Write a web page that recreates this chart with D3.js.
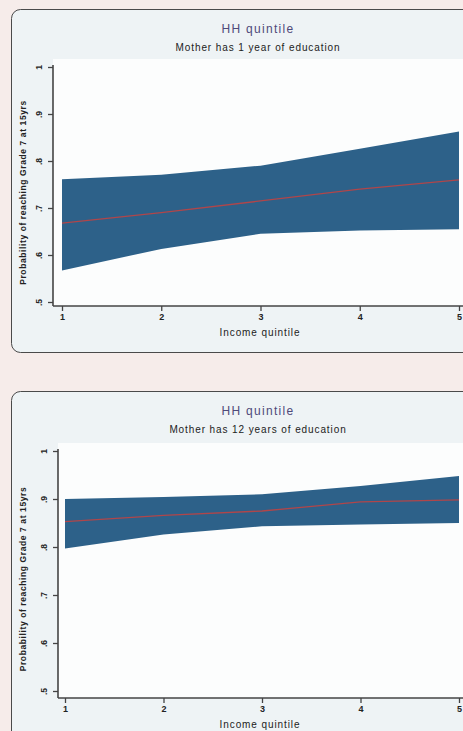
<!DOCTYPE html>
<html><head><meta charset="utf-8">
<script src="https://cdn.jsdelivr.net/npm/d3@7"></script>
<style>
html,body{margin:0;padding:0;background:#f6ecea;}
svg{display:block;font-family:"Liberation Sans",Arial,sans-serif;}
</style></head>
<body><svg id="c" width="463" height="731"></svg>
<script>
const quintiles = [1, 2, 3, 4, 5];
const yTicks = [0.5, 0.6, 0.7, 0.8, 0.9, 1];
const yTickLabels = [".5", ".6", ".7", ".8", ".9", "1"];
const titles = ["HH quintile", "HH quintile"];
const subtitles = ["Mother has 1 year of education", "Mother has 12 years of education"];
const xTitle = "Income quintile";
const yTitle = "Probability of reaching Grade 7 at 15yrs";
// panel 1: mother has 1 year of education
const fit1 = [0.668, 0.690, 0.715, 0.740, 0.760];
const upper1 = [0.761, 0.771, 0.790, 0.826, 0.863];
const lower1 = [0.567, 0.613, 0.645, 0.652, 0.655];
// panel 2: mother has 12 years of education
const fit2 = [0.853, 0.866, 0.875, 0.894, 0.898];
const upper2 = [0.900, 0.904, 0.910, 0.927, 0.948];
const lower2 = [0.797, 0.826, 0.843, 0.847, 0.850];

const svg = d3.select("#c");

function panel(cfg) {
  const g = svg.append("g");
  g.append("rect").attr("x", 11.5).attr("y", cfg.top + 0.5).attr("width", 470).attr("height", cfg.h)
    .attr("rx", 9).attr("fill", "#eef3f5").attr("stroke", "#4a4a4a").attr("stroke-width", 1);
  const x = d3.scaleLinear().domain([1, 5]).range([cfg.x0, cfg.x1]);
  const y = d3.scaleLinear().domain([0.5, 1]).range([cfg.yb, cfg.yt]);
  // plot region
  g.append("rect").attr("x", cfg.ax).attr("y", cfg.yt - 8).attr("width", 463 - cfg.ax).attr("height", cfg.axy - cfg.yt + 8)
    .attr("fill", "#fcfdfd");
  const data = quintiles.map((q, i) => ({q, f: cfg.fit[i], u: cfg.upper[i], l: cfg.lower[i]}));
  g.append("path").datum(data)
    .attr("d", d3.area().x(d => x(d.q)).y0(d => y(d.l)).y1(d => y(d.u)))
    .attr("fill", "#2d6189");
  g.append("path").datum(data)
    .attr("d", d3.line().x(d => x(d.q)).y(d => y(d.f)))
    .attr("fill", "none").attr("stroke", "#b0464a").attr("stroke-width", 1.3);
  // y axis
  const ya = g.append("g").attr("transform", `translate(${cfg.ax},0)`)
    .call(d3.axisLeft(y).tickValues(yTicks).tickSize(5).tickPadding(3)
      .tickFormat((d, i) => yTickLabels[i]));
  ya.select(".domain").attr("stroke", "#444").attr("stroke-width", 1.6)
    .attr("d", `M0,${cfg.yt - 2}V${cfg.axy}`);
  ya.selectAll(".tick line").attr("stroke", "#444").attr("stroke-width", 1.3);
  ya.selectAll(".tick text").attr("font-size", 8.5).attr("fill", "#222").attr("font-weight", "bold")
    .attr("transform", "rotate(-90)").attr("x", 0).attr("y", -12).attr("dy", "0.1em")
    .attr("text-anchor", "middle");
  // x axis
  const xa = g.append("g").attr("transform", `translate(0,${cfg.axy})`)
    .call(d3.axisBottom(x).tickValues(quintiles).tickSize(5).tickPadding(3).tickFormat(d3.format("d")));
  xa.select(".domain").attr("stroke", "#444").attr("stroke-width", 1.6)
    .attr("d", `M${cfg.ax},0H463`);
  xa.selectAll(".tick line").attr("stroke", "#444").attr("stroke-width", 1.3);
  xa.selectAll(".tick text").attr("font-size", 9).attr("fill", "#222").attr("font-weight", "bold");
  // titles
  g.append("text").attr("x", 258).attr("y", cfg.top + 24).attr("text-anchor", "middle")
    .attr("font-size", 12).attr("letter-spacing", 1.3).attr("fill", "#4e4a7a").text(cfg.title);
  g.append("text").attr("x", 258).attr("y", cfg.top + 42).attr("text-anchor", "middle")
    .attr("font-size", 10).attr("letter-spacing", 0.9).attr("fill", "#222").text(cfg.subtitle);
  g.append("text").attr("x", 260).attr("y", cfg.axy + 30).attr("text-anchor", "middle")
    .attr("font-size", 10).attr("letter-spacing", 0.9).attr("fill", "#222").text(xTitle);
  g.append("text").attr("transform", `translate(26,${(cfg.yt + cfg.yb) / 2 + 8}) rotate(-90)`)
    .attr("text-anchor", "middle").attr("font-size", 8.5).attr("letter-spacing", 0.6).attr("font-weight", "bold")
    .attr("fill", "#222").text(yTitle);
}

panel({top: 9, h: 343, x0: 62, x1: 459, yt: 67, yb: 302, ax: 53, axy: 306,
  fit: fit1, upper: upper1, lower: lower1, title: titles[0], subtitle: subtitles[0]});
panel({top: 391, h: 360, x0: 65, x1: 459, yt: 451, yb: 691, ax: 58, axy: 698,
  fit: fit2, upper: upper2, lower: lower2, title: titles[1], subtitle: subtitles[1]});
</script></body></html>
